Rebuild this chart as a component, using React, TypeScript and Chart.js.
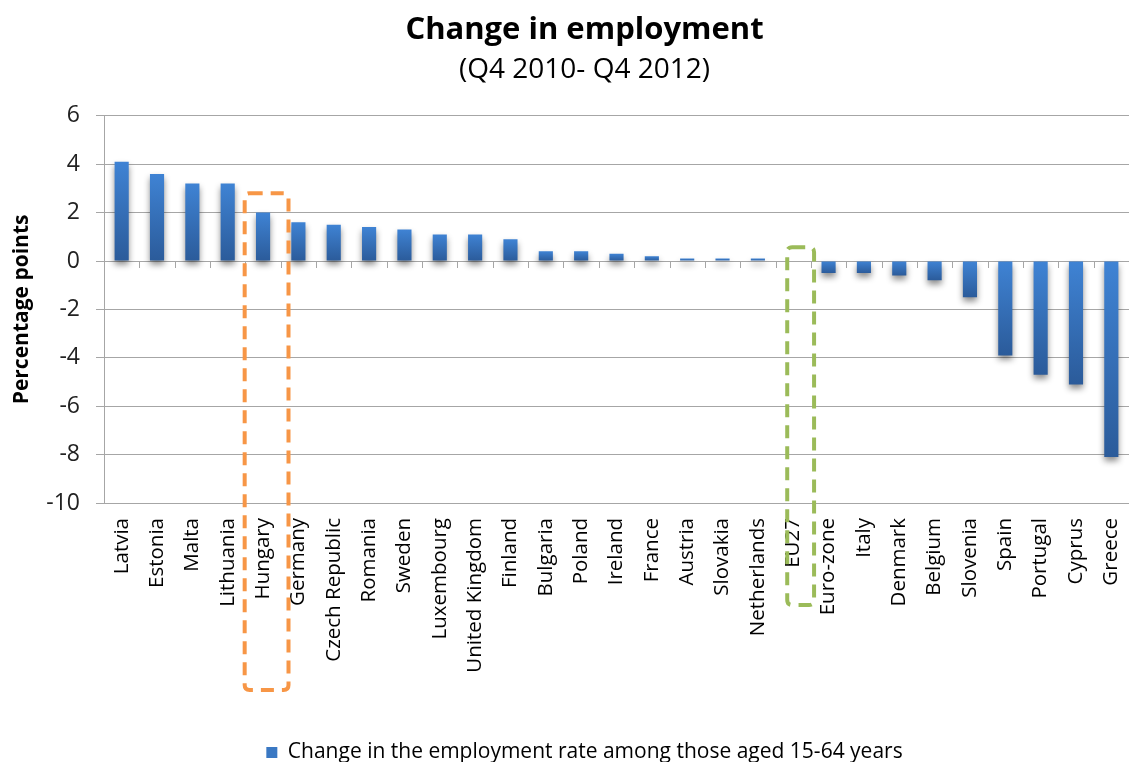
import React, { useEffect, useRef } from "react";
import { Chart, registerables } from "chart.js";

Chart.register(...registerables);

const TITLE = "Change in employment";
const SUBTITLE = "(Q4 2010- Q4 2012)";
const Y_TITLE = "Percentage points";
const SERIES_LABEL = "Change in the employment rate among those aged 15-64 years";

const categories = [
  "Latvia", "Estonia", "Malta", "Lithuania", "Hungary", "Germany", "Czech Republic",
  "Romania", "Sweden", "Luxembourg", "United Kingdom", "Finland", "Bulgaria", "Poland",
  "Ireland", "France", "Austria", "Slovakia", "Netherlands", "EU27", "Euro-zone", "Italy",
  "Denmark", "Belgium", "Slovenia", "Spain", "Portugal", "Cyprus", "Greece",
];

const employmentChange = [
  4.1, 3.6, 3.2, 3.2, 2.0, 1.6, 1.5,
  1.4, 1.3, 1.1, 1.1, 0.9, 0.4, 0.4,
  0.3, 0.2, 0.1, 0.1, 0.1, 0.0, -0.5, -0.5,
  -0.6, -0.8, -1.5, -3.9, -4.7, -5.1, -8.1,
];

const yMin = -10;
const yMax = 6;
const yStep = 2;

// highlighted categories: [category, colour, top value, centre shift (cat widths), half width (cat widths), bottom below plot (px)]
const highlights = [
  { category: "Hungary", color: "#F79646", topValue: 2.8, shift: 0.1, half: 0.62, below: 187 },
  { category: "EU27", color: "#9BBB59", topValue: 0.57, shift: 0.21, half: 0.38, below: 102 },
];

const FONT = "'Open Sans', 'Noto Sans', sans-serif";
const GRID = "#A6A6A6";

function roundRectPath(ctx: CanvasRenderingContext2D, x: number, y: number, w: number, h: number, r: number) {
  ctx.beginPath();
  ctx.moveTo(x + r, y);
  ctx.lineTo(x + w - r, y);
  ctx.quadraticCurveTo(x + w, y, x + w, y + r);
  ctx.lineTo(x + w, y + h - r);
  ctx.quadraticCurveTo(x + w, y + h, x + w - r, y + h);
  ctx.lineTo(x + r, y + h);
  ctx.quadraticCurveTo(x, y + h, x, y + h - r);
  ctx.lineTo(x, y + r);
  ctx.quadraticCurveTo(x, y, x + r, y);
  ctx.closePath();
}

const decorPlugin = {
  id: "decor",
  beforeDatasetsDraw(chart: any) {
    const ctx = chart.ctx;
    const x = chart.scales.x;
    const y = chart.scales.y;
    const w = x.getPixelForValue(1) - x.getPixelForValue(0);
    const y0 = y.getPixelForValue(0);
    ctx.save();
    ctx.strokeStyle = GRID;
    ctx.lineWidth = 1;
    for (let i = 1; i < categories.length; i++) {
      const px = Math.round(x.getPixelForValue(i) - w / 2) + 0.5;
      ctx.beginPath();
      ctx.moveTo(px, y0);
      ctx.lineTo(px, y0 + 7);
      ctx.stroke();
    }
    ctx.restore();
    ctx.save();
    ctx.shadowColor = "rgba(0,0,0,0.45)";
    ctx.shadowBlur = 6;
    ctx.shadowOffsetY = 4;
  },
  afterDatasetsDraw(chart: any) {
    chart.ctx.restore();
  },
  afterDraw(chart: any) {
    const ctx = chart.ctx;
    const x = chart.scales.x;
    const y = chart.scales.y;
    const w = x.getPixelForValue(1) - x.getPixelForValue(0);
    highlights.forEach((h) => {
      const idx = categories.indexOf(h.category);
      const cx = x.getPixelForValue(idx) + h.shift * w;
      const left = cx - h.half * w;
      const right = cx + h.half * w;
      const top = y.getPixelForValue(h.topValue);
      const bottom = chart.chartArea.bottom + h.below;
      ctx.save();
      ctx.strokeStyle = h.color;
      ctx.lineWidth = 4;
      ctx.setLineDash([13, 8]);
      roundRectPath(ctx, left, top, right - left, bottom - top, 5);
      ctx.stroke();
      ctx.restore();
    });
  },
};

function barFill(c: any) {
  const chart = c.chart;
  const ys = chart.scales && chart.scales.y;
  if (!ys || c.dataIndex == null || !chart.chartArea) return "#3A78C3";
  const v = c.raw as number;
  const p0 = ys.getPixelForValue(0);
  const p1 = ys.getPixelForValue(v);
  const top = Math.min(p0, p1);
  const bot = Math.max(p0, p1);
  if (!isFinite(top) || bot - top < 1) return "#3A78C3";
  const g = chart.ctx.createLinearGradient(0, top, 0, bot);
  g.addColorStop(0, "#3F83D4");
  g.addColorStop(1, "#2B5B9A");
  return g;
}

export default function App() {
  const ref = useRef<HTMLCanvasElement | null>(null);

  useEffect(() => {
    if (!ref.current) return;
    const chart = new Chart(ref.current, {
      type: "bar",
      data: {
        labels: categories,
        datasets: [
          {
            label: SERIES_LABEL,
            data: employmentChange,
            backgroundColor: barFill as any,
            borderWidth: 0,
            barPercentage: 0.8,
            categoryPercentage: 0.5,
          },
        ],
      },
      plugins: [decorPlugin],
      options: {
        animation: false,
        responsive: false,
        maintainAspectRatio: false,
        layout: { padding: { left: 40, right: 0, top: 0, bottom: -11 } },
        font: { family: FONT },
        plugins: {
          title: {
            display: true,
            text: TITLE,
            color: "#000",
            font: { family: FONT, size: 31, weight: "bold", lineHeight: 1.2 },
            padding: { top: 12, bottom: 0 },
          },
          subtitle: {
            display: true,
            text: SUBTITLE,
            color: "#000",
            font: { family: FONT, size: 28, weight: "normal", lineHeight: 1.2 },
            padding: { top: 4, bottom: 29 },
          },
          legend: {
            display: true,
            position: "bottom",
            labels: {
              color: "#000",
              font: { family: FONT, size: 21 },
              boxWidth: 11,
              boxHeight: 11,
              padding: 0,
              generateLabels: () => [
                {
                  text: SERIES_LABEL,
                  fillStyle: "#3A78C3",
                  strokeStyle: "#3A78C3",
                  lineWidth: 0,
                  hidden: false,
                  datasetIndex: 0,
                } as any,
              ],
            },
          },
          tooltip: { enabled: false },
        },
        scales: {
          x: {
            grid: { display: false, drawTicks: false },
            border: { display: false },
            ticks: {
              color: "#000",
              font: { family: FONT, size: 20.5 },
              autoSkip: false,
              minRotation: 90,
              maxRotation: 90,
              padding: 15,
            },
            afterFit: (s: any) => {
              s.height = 239;
              s.paddingLeft = 0;
              s.paddingRight = 0;
            },
          },
          y: {
            min: yMin,
            max: yMax,
            ticks: {
              stepSize: yStep,
              color: "#222",
              font: { family: FONT, size: 23 },
              padding: 16,
            },
            grid: { color: GRID, lineWidth: 1, tickLength: 8, drawTicks: true },
            border: { display: true, color: GRID, width: 1 },
            title: {
              display: true,
              text: Y_TITLE,
              color: "#000",
              font: { family: FONT, size: 21, weight: "bold", lineHeight: 1.2 },
              padding: { top: -31, bottom: 0 },
            },
            afterFit: (s: any) => {
              s.width = 64;
            },
          },
        },
      } as any,
    });
    return () => chart.destroy();
  }, []);

  return (
    <div style={{ position: "fixed", left: 0, top: 0, width: 1129, height: 762, background: "#fff" }}>
      <canvas ref={ref} width={1129} height={762} style={{ width: 1129, height: 762, display: "block" }} />
    </div>
  );
}
